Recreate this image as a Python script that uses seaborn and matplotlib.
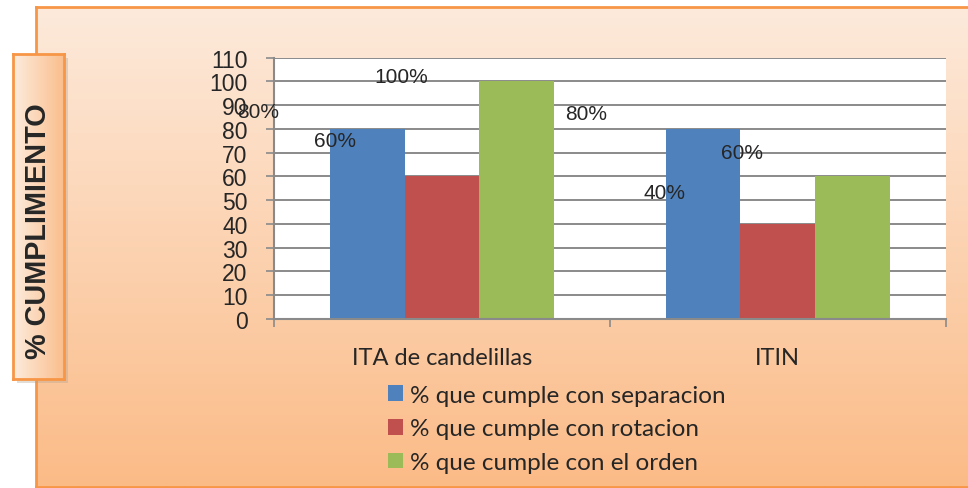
import numpy as np
import pandas as pd
import matplotlib
matplotlib.use("Agg")
import matplotlib.pyplot as plt
import seaborn as sns

# ---- data ----
categories = ["ITA de candelillas", "ITIN"]
series_names = ["% que cumple con separacion", "% que cumple con rotacion", "% que cumple con el orden"]
separacion = [80, 80]
rotacion = [60, 40]
orden = [100, 60]
y_ticks = list(range(0, 111, 10))
ylabel_text = "% CUMPLIMIENTO"

colors = ["#4F81BD", "#C0504D", "#9BBB59"]

rows = []
for name, vals in zip(series_names, [separacion, rotacion, orden]):
    for c, v in zip(categories, vals):
        rows.append({"cat": c, "serie": name, "val": v})
df = pd.DataFrame(rows)

sns.set_style("white")
plt.rcParams["font.family"] = ["Liberation Sans", "DejaVu Sans"]

W, H = 968, 489
fig = plt.figure(figsize=(W / 100, H / 100), dpi=100)
fig.patch.set_facecolor("white")

# outer gradient panel
bg = fig.add_axes([36 / W, 1 / H, 1 - 36 / W + 0.01, (488 - 8) / H], zorder=-5)
grad = np.linspace(0, 1, 256)[:, None]
top = np.array([253, 234, 219]) / 255
bot = np.array([251, 187, 135]) / 255
img = top[None, None, :] * (1 - grad[:, :, None]) + bot[None, None, :] * grad[:, :, None]
bg.imshow(img, aspect="auto", extent=[0, 1, 0, 1], origin="upper")
bg.set_xlim(0, 1); bg.set_ylim(0, 1)
bg.set_xticks([]); bg.set_yticks([])
for s in ["top", "bottom", "left"]:
    bg.spines[s].set_color("#F79646"); bg.spines[s].set_linewidth(2)
bg.spines["right"].set_visible(False)

# main chart
ax = fig.add_axes([274 / W, 1 - 320 / H, (945.5 - 274) / W, (320 - 58.5) / H])
ax.set_facecolor("white")
sns.barplot(data=df, x="cat", y="val", hue="serie", palette=colors, width=0.667,
            saturation=1, ax=ax, legend=True, linewidth=0)
ax.set_ylim(0, 110)
ax.set_xlim(-0.5, 1.5)
ax.set_yticks(y_ticks)
ax.set_yticklabels([str(t) for t in y_ticks], fontsize=16.5)
ax.yaxis.grid(True, color="#8a8a8a", linewidth=1.4)
ax.set_axisbelow(True)
ax.tick_params(axis="y", direction="out", length=6, width=1.2, color="#8a8a8a", pad=13, left=True)
ax.set_xticks([-0.5, 0.5, 1.5])
ax.set_xticklabels(["", "", ""])
ax.tick_params(axis="x", direction="out", length=6, width=1.2, color="#8a8a8a", bottom=True)
ax.set_xticks([0, 1], minor=True)
ax.set_xticklabels(categories, minor=True, fontsize=17, family=["Lato", "DejaVu Sans"])
ax.tick_params(axis="x", which="minor", length=0, pad=20)
for s in ["top", "right"]:
    ax.spines[s].set_visible(False)
for s in ["left", "bottom"]:
    ax.spines[s].set_color("#8a8a8a"); ax.spines[s].set_linewidth(1.5)
ax.set_xlabel(""); ax.set_ylabel("")

# data labels (offset as in the reference)
dx = [[-109, -117], [-107, -113], [-115, -110]]
dy = [[17, 15], [36, 31], [5, 24]]
for i, cont in enumerate(ax.containers):
    for j, bar in enumerate(cont):
        v = bar.get_height()
        ax.annotate(f"{v:.0f}%", xy=(bar.get_x() + bar.get_width() / 2, v),
                    xytext=(dx[i][j], dy[i][j]), textcoords="offset pixels",
                    ha="center", va="center", fontsize=15, annotation_clip=False)

# legend
handles, labels = ax.get_legend_handles_labels()
ax.legend_.remove()
fig.legend(handles, labels, loc="center", bbox_to_anchor=(556.5 / W, 1 - 430 / H),
           frameon=False, handlelength=0.62, handleheight=0.62, handletextpad=0.3,
           labelspacing=0.52, prop={"family": ["Lato", "DejaVu Sans"], "size": 17.5})

# y-label box with shadow
sh = fig.add_axes([(13 + 4) / W, 1 - (380 + 4) / H, 51 / W, 325 / H], zorder=1)
sh.set_facecolor("#b0a090"); sh.patch.set_alpha(0.35)
sh.set_xticks([]); sh.set_yticks([])
for s in sh.spines.values():
    s.set_visible(False)
lb = fig.add_axes([13 / W, 1 - 380 / H, 51 / W, 325 / H], zorder=2)
hg = np.linspace(0, 1, 256)[None, :]
l_c = np.array([253, 236, 222]) / 255
r_c = np.array([250, 190, 140]) / 255
img2 = l_c[None, None, :] * (1 - hg[:, :, None]) + r_c[None, None, :] * hg[:, :, None]
lb.imshow(img2, aspect="auto", extent=[0, 1, 0, 1])
lb.set_xlim(0, 1); lb.set_ylim(0, 1)
lb.set_xticks([]); lb.set_yticks([])
for s in lb.spines.values():
    s.set_color("#F79646"); s.set_linewidth(2)
lb.text(0.5, 1 - (231 - 55) / 325, ylabel_text, rotation=90, ha="center", va="center",
        fontsize=20.8, fontweight="bold", transform=lb.transAxes)

fig.savefig("out.png", dpi=100)
